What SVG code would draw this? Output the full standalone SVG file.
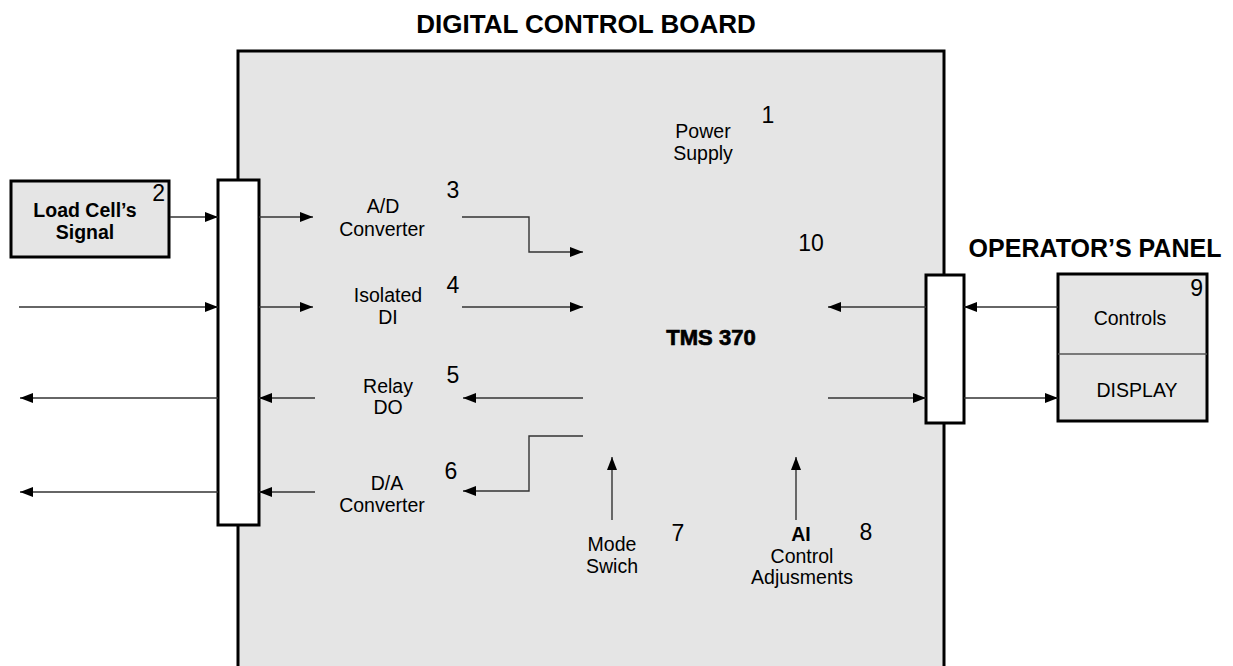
<svg xmlns="http://www.w3.org/2000/svg" width="1233" height="666" viewBox="0 0 1233 666">
<defs>
<marker id="ah" markerUnits="userSpaceOnUse" markerWidth="14" markerHeight="11" refX="13" refY="5" orient="auto">
<path d="M0,0 L13,5 L0,10 z" fill="#000"/>
</marker>
<style>
.box{fill:#e5e5e5;stroke:#000;stroke-width:3}
.bar{fill:#fff;stroke:#000;stroke-width:3}
.c{fill:none;stroke:#333;stroke-width:1.4;marker-end:url(#ah)}
.t{font-family:"Liberation Sans",Arial,sans-serif;font-size:19.5px;fill:#000;text-anchor:middle}
.b{font-weight:bold}
.n{font-family:"Liberation Sans",Arial,sans-serif;font-size:23px;fill:#000;text-anchor:middle}
.h{font-family:"Liberation Sans",Arial,sans-serif;font-weight:bold;fill:#000;text-anchor:middle}
</style>
</defs>
<rect width="1233" height="666" fill="#fff"/>
<g id="board">
<rect class="box" x="238" y="51" width="706" height="660"/>
<text class="h" x="586" y="33" font-size="26">DIGITAL CONTROL BOARD</text>
</g>
<g id="power-supply">
<text class="t" x="703" y="138">Power</text>
<text class="t" x="703" y="160">Supply</text>
<text class="n" x="768" y="123">1</text>
</g>
<g id="tms370">
<text class="h" x="711" y="345" font-size="22" stroke="#000" stroke-width="0.7">TMS 370</text>
<text class="n" x="811" y="251">10</text>
</g>
<g id="ad-converter">
<text class="t" x="383" y="213">A/D</text>
<text class="t" x="382" y="236">Converter</text>
<text class="n" x="453" y="198">3</text>
</g>
<g id="isolated-di">
<text class="t" x="388" y="302">Isolated</text>
<text class="t" x="388" y="324">DI</text>
<text class="n" x="453" y="293">4</text>
</g>
<g id="relay-do">
<text class="t" x="388" y="393">Relay</text>
<text class="t" x="388" y="414">DO</text>
<text class="n" x="453" y="383">5</text>
</g>
<g id="da-converter">
<text class="t" x="387" y="490">D/A</text>
<text class="t" x="382" y="512">Converter</text>
<text class="n" x="451" y="479">6</text>
</g>
<g id="mode-switch">
<text class="t" x="612" y="551">Mode</text>
<text class="t" x="612" y="573">Swich</text>
<text class="n" x="678" y="541">7</text>
</g>
<g id="ai-control">
<text class="t b" x="801" y="541">AI</text>
<text class="t" x="802" y="563">Control</text>
<text class="t" x="802" y="584">Adjusments</text>
<text class="n" x="866" y="540">8</text>
</g>
<g id="left-connector">
<rect class="bar" x="218" y="180" width="41" height="345"/>
</g>
<g id="right-connector">
<rect class="bar" x="926" y="275" width="38" height="148"/>
</g>
<g id="load-cell">
<rect class="box" x="11" y="181" width="158" height="76"/>
<text class="t b" x="85" y="217">Load Cell’s</text>
<text class="t b" x="85" y="239">Signal</text>
<text class="n" x="165" y="201" style="text-anchor:end">2</text>
</g>
<g id="operator-panel">
<text class="h" x="1095" y="257" font-size="25">OPERATOR’S PANEL</text>
<rect class="box" x="1058" y="274" width="149" height="147"/>
<line x1="1058" y1="354" x2="1207" y2="354" stroke="#555" stroke-width="1.5"/>
<text class="t" x="1130" y="325">Controls</text>
<text class="t" x="1137" y="397">DISPLAY</text>
<text class="n" x="1203" y="296" style="text-anchor:end">9</text>
</g>
<g id="connectors">
<path class="c" d="M170,217 H218"/>
<path class="c" d="M259,217 H313"/>
<path class="c" d="M462,217 H529 V252 H583"/>
<path class="c" d="M19,307 H218"/>
<path class="c" d="M259,307 H313"/>
<path class="c" d="M462,307 H583"/>
<path class="c" d="M583,398 H463"/>
<path class="c" d="M315,398 H259"/>
<path class="c" d="M218,398 H20"/>
<path class="c" d="M583,436 H529 V491 H463"/>
<path class="c" d="M315,492 H259"/>
<path class="c" d="M218,492 H20"/>
<path class="c" d="M612,520 V457"/>
<path class="c" d="M796,520 V457"/>
<path class="c" d="M926,307 H828"/>
<path class="c" d="M1058,307 H964"/>
<path class="c" d="M828,398 H926"/>
<path class="c" d="M964,398 H1058"/>
</g>
</svg>
